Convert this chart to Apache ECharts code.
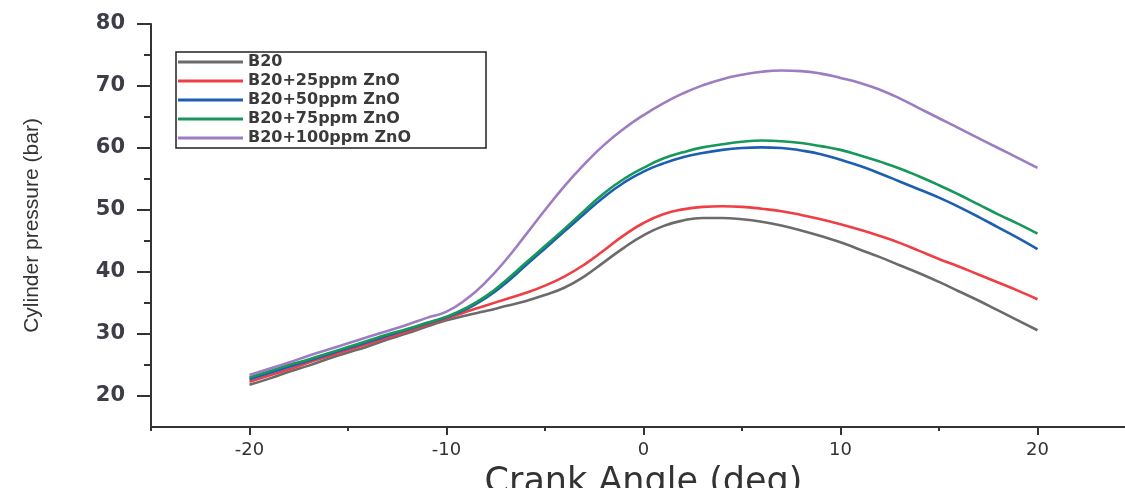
<!DOCTYPE html>
<html>
<head>
<meta charset="utf-8">
<script src="https://cdn.jsdelivr.net/npm/echarts@6/dist/echarts.min.js"></script>
<style>
html,body{margin:0;padding:0;background:#fff;}
#chart{width:1125px;height:488px;}
</style>
</head>
<body>
<div id="chart"></div>
<script>
// Crank angle (deg)
const angles = [-20, -19, -18, -17, -16, -15, -14, -13, -12, -11,
                -10, -9, -8, -7, -6, -5, -4, -3, -2, -1,
                0, 1, 2, 3, 4, 5, 6, 7, 8, 9,
                10, 11, 12, 13, 14, 15, 16, 17, 18, 19, 20];
// Cylinder pressure (bar)
const b20     = [21.8, 22.8, 23.9, 24.9, 26.0, 27.0, 28.0, 29.1, 30.1, 31.2,
                 32.2, 33.0, 33.7, 34.5, 35.3, 36.3, 37.5, 39.3, 41.6, 43.9,
                 45.9, 47.4, 48.3, 48.7, 48.7, 48.5, 48.1, 47.5, 46.7, 45.8,
                 44.8, 43.6, 42.4, 41.1, 39.8, 38.4, 36.9, 35.4, 33.8, 32.2, 30.6];
const b20_25  = [22.3, 23.3, 24.3, 25.4, 26.4, 27.4, 28.4, 29.4, 30.4, 31.5,
                 32.5, 33.6, 34.6, 35.6, 36.6, 37.8, 39.3, 41.2, 43.5, 45.9,
                 47.9, 49.3, 50.1, 50.5, 50.6, 50.5, 50.2, 49.8, 49.2, 48.5,
                 47.7, 46.8, 45.8, 44.7, 43.4, 42.1, 40.9, 39.6, 38.3, 37.0, 35.6];
const b20_50  = [22.7, 23.7, 24.7, 25.7, 26.7, 27.7, 28.7, 29.7, 30.7, 31.7,
                 32.7, 34.0, 35.8, 38.2, 41.0, 43.8, 46.6, 49.4, 52.1, 54.4,
                 56.2, 57.5, 58.5, 59.2, 59.7, 60.0, 60.1, 60.0, 59.6, 59.0,
                 58.1, 57.1, 55.9, 54.6, 53.3, 52.0, 50.5, 48.9, 47.2, 45.5, 43.7];
const b20_75  = [23.0, 24.0, 25.0, 25.9, 26.9, 27.9, 28.9, 29.9, 30.8, 31.8,
                 32.8, 34.2, 36.1, 38.6, 41.4, 44.2, 47.0, 49.9, 52.7, 55.0,
                 56.8, 58.3, 59.3, 60.1, 60.6, 61.0, 61.2, 61.1, 60.8, 60.3,
                 59.7, 58.8, 57.8, 56.7, 55.4, 54.0, 52.5, 50.9, 49.3, 47.8, 46.2];
const b20_100 = [23.4, 24.4, 25.4, 26.5, 27.5, 28.5, 29.5, 30.5, 31.5, 32.6,
                 33.6, 35.6, 38.4, 41.9, 45.9, 50.0, 53.9, 57.4, 60.5, 63.1,
                 65.3, 67.2, 68.8, 70.1, 71.1, 71.8, 72.3, 72.5, 72.4, 72.0,
                 71.3, 70.5, 69.4, 68.0, 66.4, 64.8, 63.2, 61.6, 60.0, 58.4, 56.8];

const seriesNames = ['B20', 'B20+25ppm ZnO', 'B20+50ppm ZnO', 'B20+75ppm ZnO', 'B20+100ppm ZnO'];
const seriesValues = [b20, b20_25, b20_50, b20_75, b20_100];
const seriesColors = ['#6b6b6b', '#ef3f45', '#1c5fb2', '#17975a', '#9d7cc1'];

const xMajorTicks = [-20, -10, 0, 10, 20];
const xMinorTicks = [-25, -15, -5, 5, 15];
const yMajorTicks = [20, 30, 40, 50, 60, 70, 80];
const yMinorTicks = [25, 35, 45, 55, 65, 75];

const axisColor = '#333';

const chart = echarts.init(document.getElementById('chart'), null, {renderer: 'canvas'});

const series = seriesNames.map((name, i) => ({
  name: name,
  type: 'line',
  xAxisIndex: 0,
  yAxisIndex: 0,
  data: angles.map((a, j) => [a, seriesValues[i][j]]),
  smooth: 0.5,
  symbol: 'none',
  lineStyle: {color: seriesColors[i], width: 2.6},
  itemStyle: {color: seriesColors[i]},
  z: 2 + i
}));

chart.setOption({
  animation: false,
  backgroundColor: '#fff',
  grid: {left: 151, top: 24, bottom: 61, right: -11, containLabel: false, outerBoundsMode: 'none'},
  legend: {
    orient: 'vertical',
    left: 176,
    top: 52,
    padding: [2, 75, 2, 2],
    backgroundColor: '#fff',
    borderColor: '#222',
    borderWidth: 1.5,
    itemWidth: 65,
    itemHeight: 3,
    itemGap: 3,
    icon: 'rect',
    textStyle: {fontFamily: 'DejaVu Sans', fontWeight: 'bold', fontSize: 16, lineHeight: 15, color: '#3a3a3a'},
    data: seriesNames
  },
  xAxis: [{
    type: 'value',
    min: -25, max: 25,
    axisLine: {show: true, onZero: false, lineStyle: {color: axisColor, width: 2}},
    axisTick: {show: true, customValues: xMajorTicks, length: 8, lineStyle: {color: axisColor, width: 2}},
    axisLabel: {show: true, customValues: xMajorTicks, margin: 14, fontFamily: 'DejaVu Sans', fontSize: 18, color: '#333'},
    splitLine: {show: false},
    name: 'Crank Angle (deg)',
    nameLocation: 'middle',
    nameGap: 38,
    nameTextStyle: {fontFamily: 'DejaVu Sans', fontSize: 35, color: '#333'}
  }, {
    type: 'value',
    min: -25, max: 25,
    position: 'bottom',
    axisLine: {show: false, onZero: false},
    axisTick: {show: true, customValues: xMinorTicks, length: 4, lineStyle: {color: axisColor, width: 2}},
    axisLabel: {show: false},
    splitLine: {show: false}
  }],
  yAxis: [{
    type: 'value',
    min: 15, max: 80,
    position: 'left',
    axisLine: {show: true, onZero: false, lineStyle: {color: axisColor, width: 2}},
    axisTick: {show: true, customValues: yMajorTicks, length: 14, lineStyle: {color: axisColor, width: 2}},
    axisLabel: {show: true, customValues: yMajorTicks, margin: 26, fontFamily: 'DejaVu Sans', fontWeight: 'bold', fontSize: 21, color: '#3d3d4a'},
    splitLine: {show: false},
    name: 'Cylinder pressure (bar)',
    nameLocation: 'middle',
    nameRotate: 90,
    nameGap: 108,
    nameTextStyle: {fontFamily: 'Liberation Sans', fontSize: 21, color: '#333'}
  }, {
    type: 'value',
    min: 15, max: 80,
    position: 'left',
    offset: 0,
    axisLine: {show: false, onZero: false},
    axisTick: {show: true, customValues: yMinorTicks, length: 7, lineStyle: {color: axisColor, width: 2}},
    axisLabel: {show: false},
    splitLine: {show: false}
  }],
  series: series
});
</script>
</body>
</html>
